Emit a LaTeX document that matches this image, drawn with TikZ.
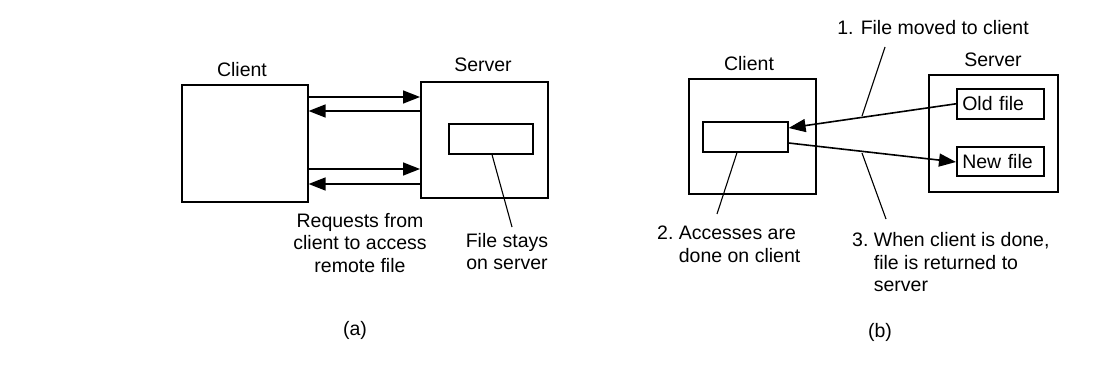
\documentclass[tikz,border=0pt]{standalone}
\usepackage{fontspec}
\setmainfont{Liberation Sans}
\usetikzlibrary{arrows.meta,calc}
\begin{document}
\begin{tikzpicture}[x=1pt,y=-1pt,
  box/.style={draw,line width=1.6pt,rectangle,inner sep=0pt,anchor=north west},
  lbl/.style={font=\fontsize{19.5}{22.5}\selectfont,inner sep=0pt},
  ftxt/.style={box,font=\fontsize{19.5}{22.5}\selectfont,text width=76pt,inner xsep=5.5pt,align=left,minimum height=30pt},
  arr/.style={line width=1.6pt,-{Triangle[length=17pt,width=13pt]}},
  ln/.style={line width=1.1pt}]
\useasboundingbox (0,0) rectangle (1114,374);
% ---------- (a) ----------
\node[box,minimum width=126pt,minimum height=117pt] (ca) at (181,84) {};
\node[box,minimum width=127pt,minimum height=116pt] (sa) at (420,81) {};
\node[box,minimum width=84pt,minimum height=30pt] (ia) at (448,123) {};
\node[lbl,anchor=base] (tca) at (242,77) {Client};
\node[lbl,anchor=base] (tsa) at (483,72) {Server};
\draw[arr] (ca.east |- 0,97) -- (sa.west |- 0,97);
\draw[arr] (sa.west |- 0,111) -- (ca.east |- 0,111);
\draw[arr] (ca.east |- 0,169) -- (sa.west |- 0,169);
\draw[arr] (sa.west |- 0,184) -- (ca.east |- 0,184);
\node[lbl,anchor=north,align=center] (req) at (360,213) {Requests from\\client to access\\remote file};
\node[lbl,anchor=north,align=center] (fs) at (507,233) {File stays\\on server};
\coordinate (fsend) at (512,227);
\draw[ln] (ia.south -| 492,0) -- (fsend);
\node[lbl,anchor=base] (la) at (355,335) {(a)};
% ---------- (b) ----------
\node[box,minimum width=127pt,minimum height=115pt] (cb) at (688,78) {};
\node[box,minimum width=85pt,minimum height=30pt] (ib) at (702,121) {};
\node[box,minimum width=129pt,minimum height=117pt] (sb) at (928,74) {};
\node[ftxt] (old) at (956,88) {Old file};
\node[ftxt,minimum height=29pt] (new) at (956,146) {New file};
\node[lbl,anchor=base] (tcb) at (749,71) {Client};
\node[lbl,anchor=base] (tsb) at (993,67) {Server};
\node[lbl,anchor=base] (t1) at (933,35) {1. File moved to client};
\draw[arr] (old.west) -- (ib.east |- 0,128);
\draw[arr] (ib.east |- 0,143) -- (new.west |- 0,162);
\coordinate (m1a) at (885,47);
\coordinate (m1b) at (862,116);
\draw[ln] (m1a) -- (m1b);
\coordinate (m3a) at (862,153);
\coordinate (m3b) at (886,219);
\draw[ln] (m3a) -- (m3b);
\coordinate (m2b) at (717,214);
\draw[ln] (ib.south -| 737,0) -- (m2b);
\node[lbl,anchor=north west] (t2) at (657,224) {\begin{tabular}{@{}l@{\ }l@{}}2.&Accesses are\\&done on client\end{tabular}};
\node[lbl,anchor=north west] (t3) at (852,231) {\begin{tabular}{@{}l@{\ }l@{}}3.&When client is done,\\&file is returned to\\&server\end{tabular}};
\node[lbl,anchor=base] (lb) at (880,337) {(b)};
\end{tikzpicture}
\end{document}
